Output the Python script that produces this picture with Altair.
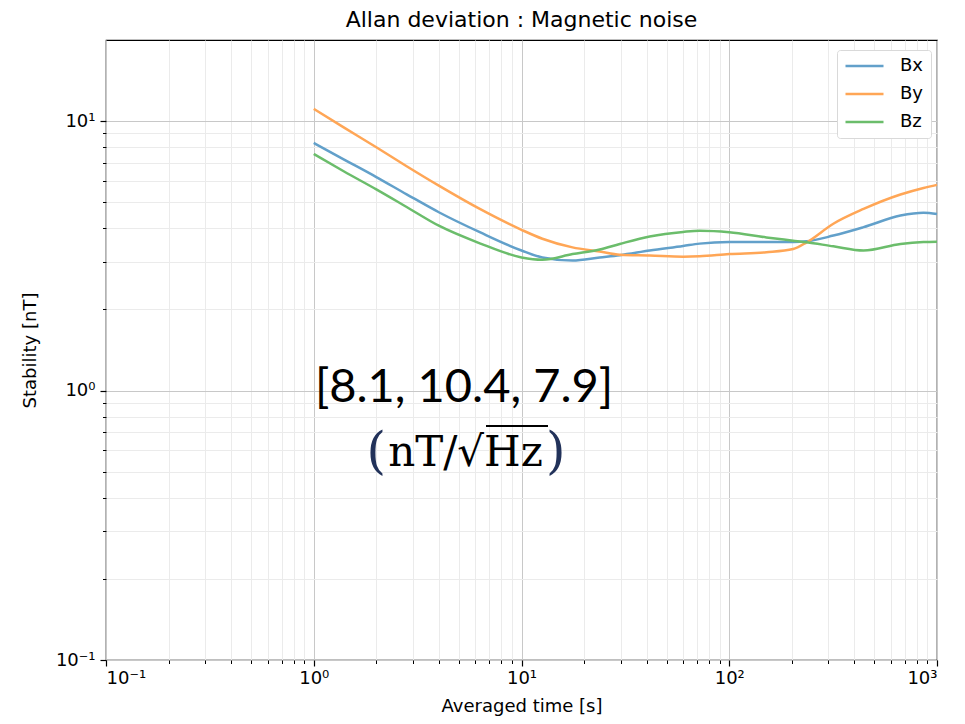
import altair as alt
import pandas as pd

# ---- data ----
tau = [1, 1.4, 2, 2.8, 4, 6.3, 10, 12.6, 17.6, 23.8, 29.7, 41.4, 60, 72, 100,
       151, 203, 236, 317, 443, 667, 861, 1000]
bx = [8.3, 7.2, 6.2, 5.35, 4.59, 3.87, 3.31, 3.12, 3.04, 3.12, 3.18, 3.31, 3.44,
      3.51, 3.56, 3.56, 3.56, 3.58, 3.76, 4.04, 4.46, 4.57, 4.52]
by = [11.1, 9.46, 8.0, 6.8, 5.76, 4.72, 3.95, 3.66, 3.40, 3.28, 3.19, 3.17, 3.14,
      3.15, 3.21, 3.26, 3.35, 3.55, 4.16, 4.72, 5.34, 5.65, 5.80]
bz = [7.55, 6.5, 5.58, 4.8, 4.09, 3.52, 3.12, 3.06, 3.21, 3.34, 3.50, 3.73, 3.88,
      3.92, 3.87, 3.70, 3.60, 3.55, 3.43, 3.31, 3.50, 3.56, 3.57]
series = ["Bx", "By", "Bz"]
colors = ["#62a0ca", "#ffa656", "#6bbd6b"]

x_major = [0.1, 1, 10, 100, 1000]
x_major_labels = ["10⁻¹", "10⁰", "10¹", "10²", "10³"]
x_minor = [m * d for d in [0.1, 1, 10, 100] for m in range(2, 10)]
y_major = [0.1, 1, 10]
y_major_labels = ["10⁻¹", "10⁰", "10¹"]
y_minor = [m * d for d in [0.1, 1] for m in range(2, 10)]

title_text = "Allan deviation : Magnetic noise"
x_title = "Averaged time [s]"
y_title = "Stability [nT]"
annot_values = "[8.1, 10.4, 7.9]"
annot_unit = "nT/√Hz"
annot_open = "("
annot_close = ")"

# ---- build table ----
rows = []
for name, vals in zip(series, [bx, by, bz]):
    for t, v in zip(tau, vals):
        rows.append({"tau": t, "dev": v, "axis": name})
df = pd.DataFrame(rows)


def label_expr(vals, labels):
    parts = [f"abs(datum.value - {v}) < {v * 0.01} ? '{l}'" for v, l in zip(vals, labels)]
    return " : ".join(parts) + " : ''"


FONT = "DejaVu Sans"
xscale = alt.Scale(type="log", domain=[0.1, 1000], nice=False)
yscale = alt.Scale(type="log", domain=[0.1, 20], nice=False)

minor_axis = dict(labels=False, tickSize=3.5, tickColor="black", tickWidth=1,
                  domain=False, grid=True, gridColor="#ebebeb", gridWidth=1)
major_axis = dict(labelFontSize=18, labelFont=FONT, labelColor="black",
                  tickSize=6, tickColor="black", tickWidth=1.2,
                  domain=False, grid=True, gridColor="#c8c8c8", gridWidth=1,
                  titleFont=FONT, titleFontSize=18, titleFontWeight="normal",
                  titleColor="black")

minor_layer = alt.Chart(df).mark_point(opacity=0).encode(
    x=alt.X("tau:Q", scale=xscale, title=None,
            axis=alt.Axis(orient="bottom", values=x_minor, **minor_axis)),
    y=alt.Y("dev:Q", scale=yscale, title=None,
            axis=alt.Axis(orient="left", values=y_minor, **minor_axis)),
)

lines = alt.Chart(df).mark_line(strokeWidth=2.5, interpolate="monotone").encode(
    x=alt.X("tau:Q", scale=xscale,
            axis=alt.Axis(orient="bottom", values=x_major,
                          labelExpr=label_expr(x_major, x_major_labels),
                          labelPadding=3, title=x_title, titlePadding=10,
                          **major_axis)),
    y=alt.Y("dev:Q", scale=yscale,
            axis=alt.Axis(orient="left", values=y_major,
                          labelExpr=label_expr(y_major, y_major_labels),
                          labelPadding=5, title=y_title, titlePadding=16,
                          **major_axis)),
    color=alt.Color("axis:N", scale=alt.Scale(domain=series, range=colors),
                    legend=alt.Legend(orient="none", legendX=731, legendY=10, title=None,
                                      labelFont=FONT, labelFontSize=18, labelColor="black",
                                      symbolType="stroke", symbolStrokeWidth=2.5,
                                      symbolSize=1444, clipHeight=18, rowPadding=10,
                                      labelOffset=15, padding=7, strokeColor="#d9d9d9",
                                      fillColor="white", cornerRadius=3)),
)

txt1 = alt.Chart(pd.DataFrame({"t": [annot_values]})).mark_text(
    font="Lato", fontSize=47, align="center", baseline="alphabetic", color="black"
).encode(x=alt.value(358), y=alt.value(362), text="t:N")

txt2 = alt.Chart(pd.DataFrame({"t": [annot_unit]})).mark_text(
    font="DejaVu Serif", fontSize=42, align="center", baseline="alphabetic", color="black"
).encode(x=alt.value(359.5), y=alt.value(426), text="t:N")

vinculum = alt.Chart(pd.DataFrame({"t": [annot_unit]})).mark_rule(
    color="black", strokeWidth=2.2
).encode(x=alt.value(380), x2=alt.value(442), y=alt.value(386))

txt3 = alt.Chart(pd.DataFrame({"t": [annot_open]})).mark_text(
    font="DejaVu Serif", fontSize=50, align="right", baseline="alphabetic", color="#22325a"
).encode(x=alt.value(280), y=alt.value(428), text="t:N")

txt4 = alt.Chart(pd.DataFrame({"t": [annot_close]})).mark_text(
    font="DejaVu Serif", fontSize=50, align="left", baseline="alphabetic", color="#22325a"
).encode(x=alt.value(440), y=alt.value(428), text="t:N")

chart = alt.layer(minor_layer, lines, txt1, txt2, vinculum, txt3, txt4).resolve_axis(
    x="independent", y="independent"
).properties(
    width=831, height=620,
    autosize=alt.AutoSizeParams(type="none"),
    padding={"left": 98, "top": 32, "right": 20, "bottom": 56},
    title=alt.TitleParams(title_text, font=FONT, fontSize=22, fontWeight="normal",
                          color="black", anchor="middle", offset=8),
    background="white",
).configure_view(stroke="black", strokeWidth=1.2)

chart.save("out.html", embed_options={"renderer": "svg", "actions": False})
